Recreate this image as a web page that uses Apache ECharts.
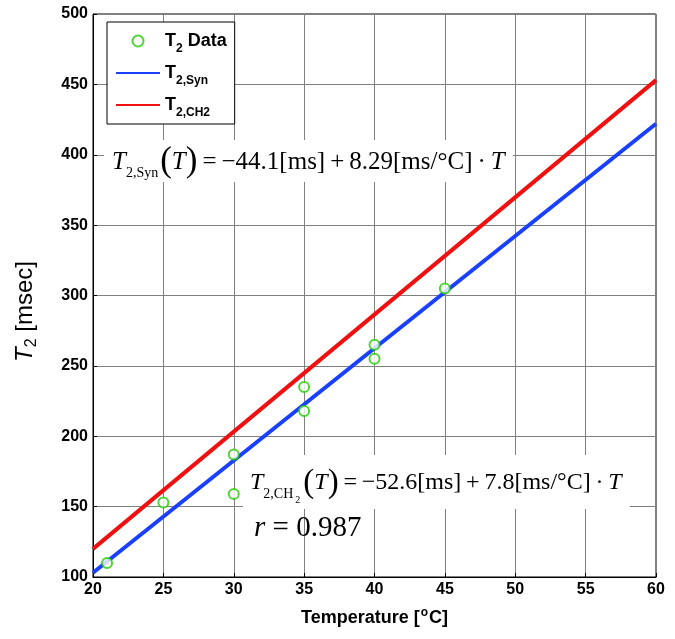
<!DOCTYPE html>
<html>
<head>
<meta charset="utf-8">
<script src="https://cdn.jsdelivr.net/npm/echarts@6/dist/echarts.min.js"></script>
<style>
html, body { margin: 0; padding: 0; background: #fff; }
#chart { width: 675px; height: 639px; }
</style>
</head>
<body>
<div id="chart"></div>
<script>
// measured points
const dataT = [21, 25, 30, 30, 35, 35, 40, 40, 45];
const dataT2 = [110, 153, 187, 159, 235, 218, 265, 255, 305];
// fitted lines, end points
const fitT = [20, 60];
const synFit = [103, 422];
const ch2Fit = [120, 453];

const sans = 'Liberation Sans, Arial, sans-serif';
const serif = 'Liberation Serif, Times New Roman, serif';

const pairs = (xs, ys) => xs.map((x, i) => [x, ys[i]]);

function eqStyle(size) {
    return {
        n: { fontFamily: serif, fontSize: size, color: '#000' },
        i: { fontFamily: serif, fontSize: size, fontStyle: 'italic', color: '#000' },
        p: { fontFamily: serif, fontSize: Math.round(size * 1.38), color: '#000' },
        s: { fontFamily: serif, fontSize: Math.round(size * 0.58), color: '#000', padding: [22, 2, 0, 0] },
        ss: { fontFamily: serif, fontSize: Math.round(size * 0.43), color: '#000', padding: [34, 3, 0, 0] }
    };
}

const legendText = {
    'T2 Data': '{b|T}{s|2}{b| Data}',
    'T2,Syn': '{b|T}{s|2,Syn}',
    'T2,CH2': '{b|T}{s|2,CH2}'
};

let chart = echarts.init(document.getElementById('chart'));

const option = {
    animation: false,
    backgroundColor: '#fff',
    grid: {
        left: 93, right: 19, top: 14, bottom: 62,
        show: true, borderColor: '#000', borderWidth: 1
    },
    legend: {
        orient: 'vertical',
        left: 107, top: 22,
        padding: [10, 8, 5, 8],
        itemGap: 9,
        itemWidth: 44,
        itemHeight: 11,
        backgroundColor: '#fff',
        borderColor: '#000',
        borderWidth: 1,
        data: [
            { name: 'T2 Data' },
            { name: 'T2,Syn', itemStyle: { opacity: 0 } },
            { name: 'T2,CH2', itemStyle: { opacity: 0 } }
        ],
        formatter: name => legendText[name],
        textStyle: {
            rich: {
                b: { fontFamily: sans, fontSize: 18, fontWeight: 'bold', color: '#000' },
                s: { fontFamily: sans, fontSize: 12, fontWeight: 'bold', color: '#000', padding: [16, 0, 0, 0] }
            }
        }
    },
    xAxis: {
        type: 'value',
        min: 20, max: 60, interval: 5,
        name: '{b|Temperature [}{u|o}{b|C]}',
        nameLocation: 'middle',
        nameGap: 30,
        nameTextStyle: {
            rich: {
                b: { fontFamily: sans, fontSize: 18, fontWeight: 'bold', color: '#000' },
                u: { fontFamily: sans, fontSize: 12, fontWeight: 'bold', color: '#000', padding: [0, 1, 11, 1] }
            }
        },
        axisLine: { lineStyle: { color: '#000', width: 1 } },
        axisTick: { inside: true, length: 4, lineStyle: { color: '#000' } },
        axisLabel: { fontFamily: sans, fontSize: 16, fontWeight: 'bold', color: '#000', margin: 5 },
        splitLine: { show: true, lineStyle: { color: '#808080', width: 1 } }
    },
    yAxis: {
        type: 'value',
        min: 100, max: 500, interval: 50,
        name: '{i|T}{s|2}{n| [msec]}',
        nameLocation: 'middle',
        nameGap: 53,
        nameTextStyle: {
            padding: [0, 32, 0, 0],
            rich: {
                i: { fontFamily: sans, fontSize: 24, fontStyle: 'italic', color: '#000' },
                n: { fontFamily: sans, fontSize: 24, color: '#000' },
                s: { fontFamily: sans, fontSize: 16, color: '#000', padding: [13, 0, 0, 0] }
            }
        },
        axisLine: { lineStyle: { color: '#000', width: 1 } },
        axisTick: { inside: true, length: 4, lineStyle: { color: '#000' } },
        axisLabel: { fontFamily: sans, fontSize: 16, fontWeight: 'bold', color: '#000', margin: 5 },
        splitLine: { show: true, lineStyle: { color: '#808080', width: 1 } }
    },
    graphic: [
        {
            type: 'text', left: 104, top: 140, z: 1,
            style: {
                text: '{i|T}{s|2,Syn}{p|(}{i|T}{p|)}{n|\u2009=\u2009−44.1[ms]\u2009+\u20098.29[ms/°C]\u2009·\u2009}{i|T}',
                rich: eqStyle(25),
                backgroundColor: '#fff',
                padding: [4, 8, 2, 8]
            }
        },
        {
            type: 'text', left: 243, top: 455, z: 1,
            style: {
                text: '{i|T}{s|2,CH}{ss|2}{p|(}{i|T}{p|)}{n|\u2009=\u2009−52.6[ms]\u2009+\u20097.8[ms/°C]\u2009·\u2009}{i|T}',
                rich: eqStyle(24),
                backgroundColor: '#fff',
                padding: [6, 8, 4, 7]
            }
        },
        {
            type: 'text', left: 254, top: 514, z: 1,
            style: {
                text: '{i|r}{n| = 0.987}',
                rich: {
                    n: { fontFamily: serif, fontSize: 29, color: '#000' },
                    i: { fontFamily: serif, fontSize: 29, fontStyle: 'italic', color: '#000' }
                }
            }
        }
    ],
    series: [
        {
            name: 'T2 Data',
            type: 'scatter',
            symbol: 'emptyCircle',
            symbolSize: 10,
            itemStyle: { color: '#22cc00', borderColor: '#22cc00', borderWidth: 2 },
            z: 4,
            data: pairs(dataT, dataT2)
        },
        {
            name: 'T2,Syn',
            type: 'line',
            symbol: 'none',
            lineStyle: { color: '#1a40ff', width: 4 },
            itemStyle: { color: '#1a40ff' },
            z: 3,
            data: pairs(fitT, synFit)
        },
        {
            name: 'T2,CH2',
            type: 'line',
            symbol: 'none',
            lineStyle: { color: '#f01010', width: 4 },
            itemStyle: { color: '#f01010' },
            z: 3,
            data: pairs(fitT, ch2Fit)
        }
    ]
};

chart.setOption(option);
</script>
</body>
</html>
